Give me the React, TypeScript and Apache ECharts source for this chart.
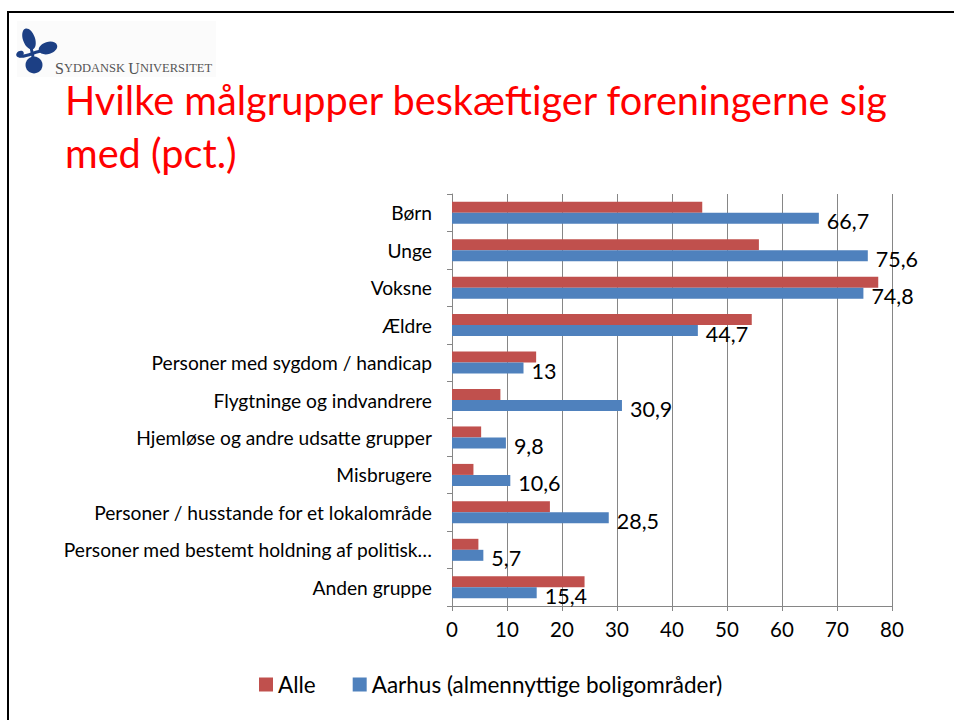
import React, { useEffect, useRef } from "react";
import * as echarts from "echarts";

const categories = [
  "Børn",
  "Unge",
  "Voksne",
  "Ældre",
  "Personer med sygdom / handicap",
  "Flygtninge og indvandrere",
  "Hjemløse og andre udsatte grupper",
  "Misbrugere",
  "Personer / husstande for et lokalområde",
  "Personer med bestemt holdning af politisk…",
  "Anden gruppe",
];
const alleValues = [45.5, 55.8, 77.5, 54.5, 15.3, 8.8, 5.3, 3.9, 17.8, 4.8, 24.1];
const aarhusValues = [66.7, 75.6, 74.8, 44.7, 13, 30.9, 9.8, 10.6, 28.5, 5.7, 15.4];
const seriesNames = ["Alle", "Aarhus (almennyttige boligområder)"];
const titleLines = ["Hvilke målgrupper beskæftiger foreningerne sig", "med (pct.)"];

const FONT = "Lato";

export default function App() {
  const ref = useRef<HTMLDivElement>(null);
  useEffect(() => {
    const chart = echarts.init(ref.current!, null, { renderer: "svg" });
    const navy = "#1c3f84";
    chart.setOption({
      animation: false,
      backgroundColor: "#ffffff",
      textStyle: { fontFamily: FONT },
      grid: { left: 452, right: 62, top: 194, bottom: 114, containLabel: false },
      legend: {
        left: 254,
        top: 668,
        icon: "rect",
        itemWidth: 14,
        itemHeight: 14,
        itemGap: 37,
        textStyle: { fontFamily: FONT, fontSize: 22.5, color: "#000" },
        data: seriesNames,
      },
      xAxis: {
        type: "value",
        min: 0,
        max: 80,
        interval: 10,
        axisLine: { show: true, lineStyle: { color: "#868686", width: 1 } },
        axisTick: { show: true, length: 5, lineStyle: { color: "#868686" } },
        splitLine: { show: true, lineStyle: { color: "#868686", width: 1 } },
        axisLabel: { fontFamily: FONT, fontSize: 20.5, color: "#000", margin: 12 },
      },
      yAxis: {
        type: "category",
        inverse: true,
        data: categories,
        axisLine: { show: true, lineStyle: { color: "#868686", width: 1 } },
        axisTick: { show: true, length: 5, lineStyle: { color: "#868686" } },
        axisLabel: { fontFamily: FONT, fontSize: 19.2, color: "#000", margin: 20 },
      },
      series: [
        {
          name: seriesNames[0],
          type: "bar",
          data: alleValues,
          barWidth: 11,
          barGap: "0%",
          itemStyle: { color: "#c0504d" },
        },
        {
          name: seriesNames[1],
          type: "bar",
          data: aarhusValues,
          barWidth: 11,
          barGap: "0%",
          itemStyle: { color: "#4f81bd" },
          label: {
            show: true,
            position: "right",
            distance: 8,
            offset: [0, 3],
            fontFamily: FONT,
            fontSize: 21.5,
            color: "#000",
            formatter: (p: any) => String(p.value).replace(".", ","),
          },
        },
      ],
      graphic: [
        { type: "line", shape: { x1: 8, y1: 12, x2: 954, y2: 12 }, style: { stroke: "#000", lineWidth: 2 } },
        { type: "line", shape: { x1: 8, y1: 11, x2: 8, y2: 720 }, style: { stroke: "#000", lineWidth: 2 } },
        { type: "rect", shape: { x: 17, y: 21, width: 199, height: 56 }, style: { fill: "#fbfbfb" } },
        // logo icon
        { type: "bezierCurve", shape: { x1: 19, y1: 56, x2: 46, y2: 51, cpx1: 28, cpy1: 58, cpx2: 37, cpy2: 49 }, style: { stroke: navy, lineWidth: 3, fill: "none" } },
        { type: "line", shape: { x1: 31, y1: 47, x2: 33, y2: 57 }, style: { stroke: navy, lineWidth: 3 } },
        { type: "ellipse", shape: { cx: 0, cy: 0, rx: 6, ry: 11 }, x: 29, y: 39, rotation: 0.35, style: { fill: navy } },
        { type: "ellipse", shape: { cx: 0, cy: 0, rx: 9.5, ry: 6 }, x: 48, y: 48, rotation: 0.3, style: { fill: navy } },
        { type: "ellipse", shape: { cx: 0, cy: 0, rx: 4, ry: 3 }, x: 20, y: 54, rotation: 0.5, style: { fill: navy } },
        { type: "circle", shape: { cx: 34, cy: 65, r: 8.5 }, style: { fill: navy } },
        {
          type: "text",
          x: 55,
          y: 76,
          style: {
            text: "{a|S}{b|YDDANSK} {a|U}{b|NIVERSITET}",
            verticalAlign: "bottom",
            rich: {
              a: { fontFamily: "Liberation Serif", fontSize: 16, fill: "#555", color: "#555" },
              b: { fontFamily: "Liberation Serif", fontSize: 12.5, fill: "#555", color: "#555" },
            },
          },
        },
        {
          type: "text",
          x: 65,
          y: 99,
          style: { text: titleLines[0], fontFamily: FONT, fontSize: 39.7, fill: "#ff0000", verticalAlign: "middle" },
        },
        {
          type: "text",
          x: 65,
          y: 152,
          style: { text: titleLines[1], fontFamily: FONT, fontSize: 39.7, fill: "#ff0000", verticalAlign: "middle" },
        },
      ],
    });
    return () => chart.dispose();
  }, []);
  return (
    <div
      ref={ref}
      style={{ position: "fixed", left: 0, top: 0, width: 954, height: 720, background: "#fff" }}
    />
  );
}
